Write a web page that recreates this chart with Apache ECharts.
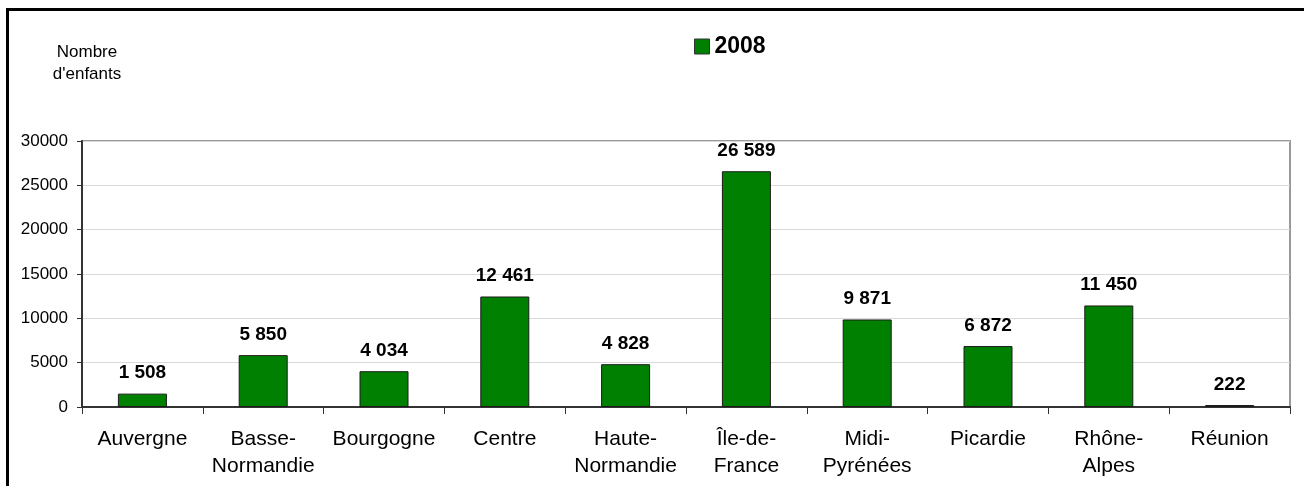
<!DOCTYPE html>
<html>
<head>
<meta charset="utf-8">
<script src="https://cdn.jsdelivr.net/npm/echarts@6/dist/echarts.min.js"></script>
<style>
  html, body { margin: 0; padding: 0; background: #fff; }
  #chart { width: 1304px; height: 486px; }
</style>
</head>
<body>
<div id="chart"></div>
<script>
const regions = [
  'Auvergne', 'Basse-\nNormandie', 'Bourgogne', 'Centre', 'Haute-\nNormandie',
  'Île-de-\nFrance', 'Midi-\nPyrénées', 'Picardie', 'Rhône-\nAlpes', 'Réunion'
]
const enfants2008 = [1508, 5850, 4034, 12461, 4828, 26589, 9871, 6872, 11450, 222]
const yTicks = [0, 5000, 10000, 15000, 20000, 25000, 30000]

const FONT = 'Liberation Sans, Arial, sans-serif'
const BAR_GREEN = '#008000'

// "26589" -> "26 589"
function formatSpace(v) {
  return String(v).replace(/\B(?=(\d{3})+(?!\d))/g, ' ')
}

const chart = echarts.init(document.getElementById('chart'), null, { renderer: 'canvas' })

chart.setOption({
  backgroundColor: '#fff',
  animation: false,
  textStyle: { fontFamily: FONT },
  legend: {
    left: 689,
    top: 30,
    itemWidth: 15,
    itemHeight: 15,
    icon: 'rect',
    itemStyle: { borderColor: '#333', borderWidth: 1 },
    textStyle: { fontFamily: FONT, fontSize: 23, fontWeight: 'bold', color: '#000' },
    data: ['2008'],
  },
  graphic: [
    {
      type: 'text',
      x: 87,
      y: 41,
      style: {
        text: "Nombre\nd'enfants",
        font: '17px ' + FONT,
        fill: '#000',
        align: 'center',
        verticalAlign: 'top',
        lineHeight: 22,
      },
    },
    // outer frame (left + top only, picture is cropped)
    {
      type: 'polyline',
      shape: { points: [[7.5, 486], [7.5, 9.5], [1304, 9.5]] },
      style: { stroke: '#000', lineWidth: 3, fill: null },
      silent: true,
    },
  ],
  grid: {
    left: 82,
    right: 14,
    top: 141,
    bottom: 79,
    show: true,
    borderColor: '#999',
    borderWidth: 2,
  },
  xAxis: {
    type: 'category',
    data: regions,
    axisLine: { lineStyle: { color: '#333', width: 2 } },
    axisTick: { show: true, length: 7, lineStyle: { color: '#333' } },
    axisLabel: {
      color: '#000',
      fontSize: 21,
      fontFamily: FONT,
      lineHeight: 27,
      margin: 19,
      interval: 0,
    },
  },
  yAxis: {
    type: 'value',
    min: yTicks[0],
    max: yTicks[yTicks.length - 1],
    interval: 5000,
    axisLine: { show: true, lineStyle: { color: '#333', width: 2 } },
    axisTick: { show: true, length: 5, lineStyle: { color: '#333' } },
    axisLabel: {
      color: '#000',
      fontSize: 17,
      fontFamily: FONT,
      margin: 14,
      formatter: (v) => String(v),
    },
    splitLine: { lineStyle: { color: '#d9d9d9', width: 1 } },
  },
  series: [
    {
      name: '2008',
      type: 'bar',
      data: enfants2008,
      barWidth: 49,
      itemStyle: { color: BAR_GREEN, borderColor: '#1a1a1a', borderWidth: 1 },
      label: {
        show: true,
        position: 'top',
        distance: 11,
        color: '#000',
        fontSize: 19,
        fontWeight: 'bold',
        fontFamily: FONT,
        formatter: (p) => formatSpace(p.value),
      },
    },
  ],
})
</script>
</body>
</html>
